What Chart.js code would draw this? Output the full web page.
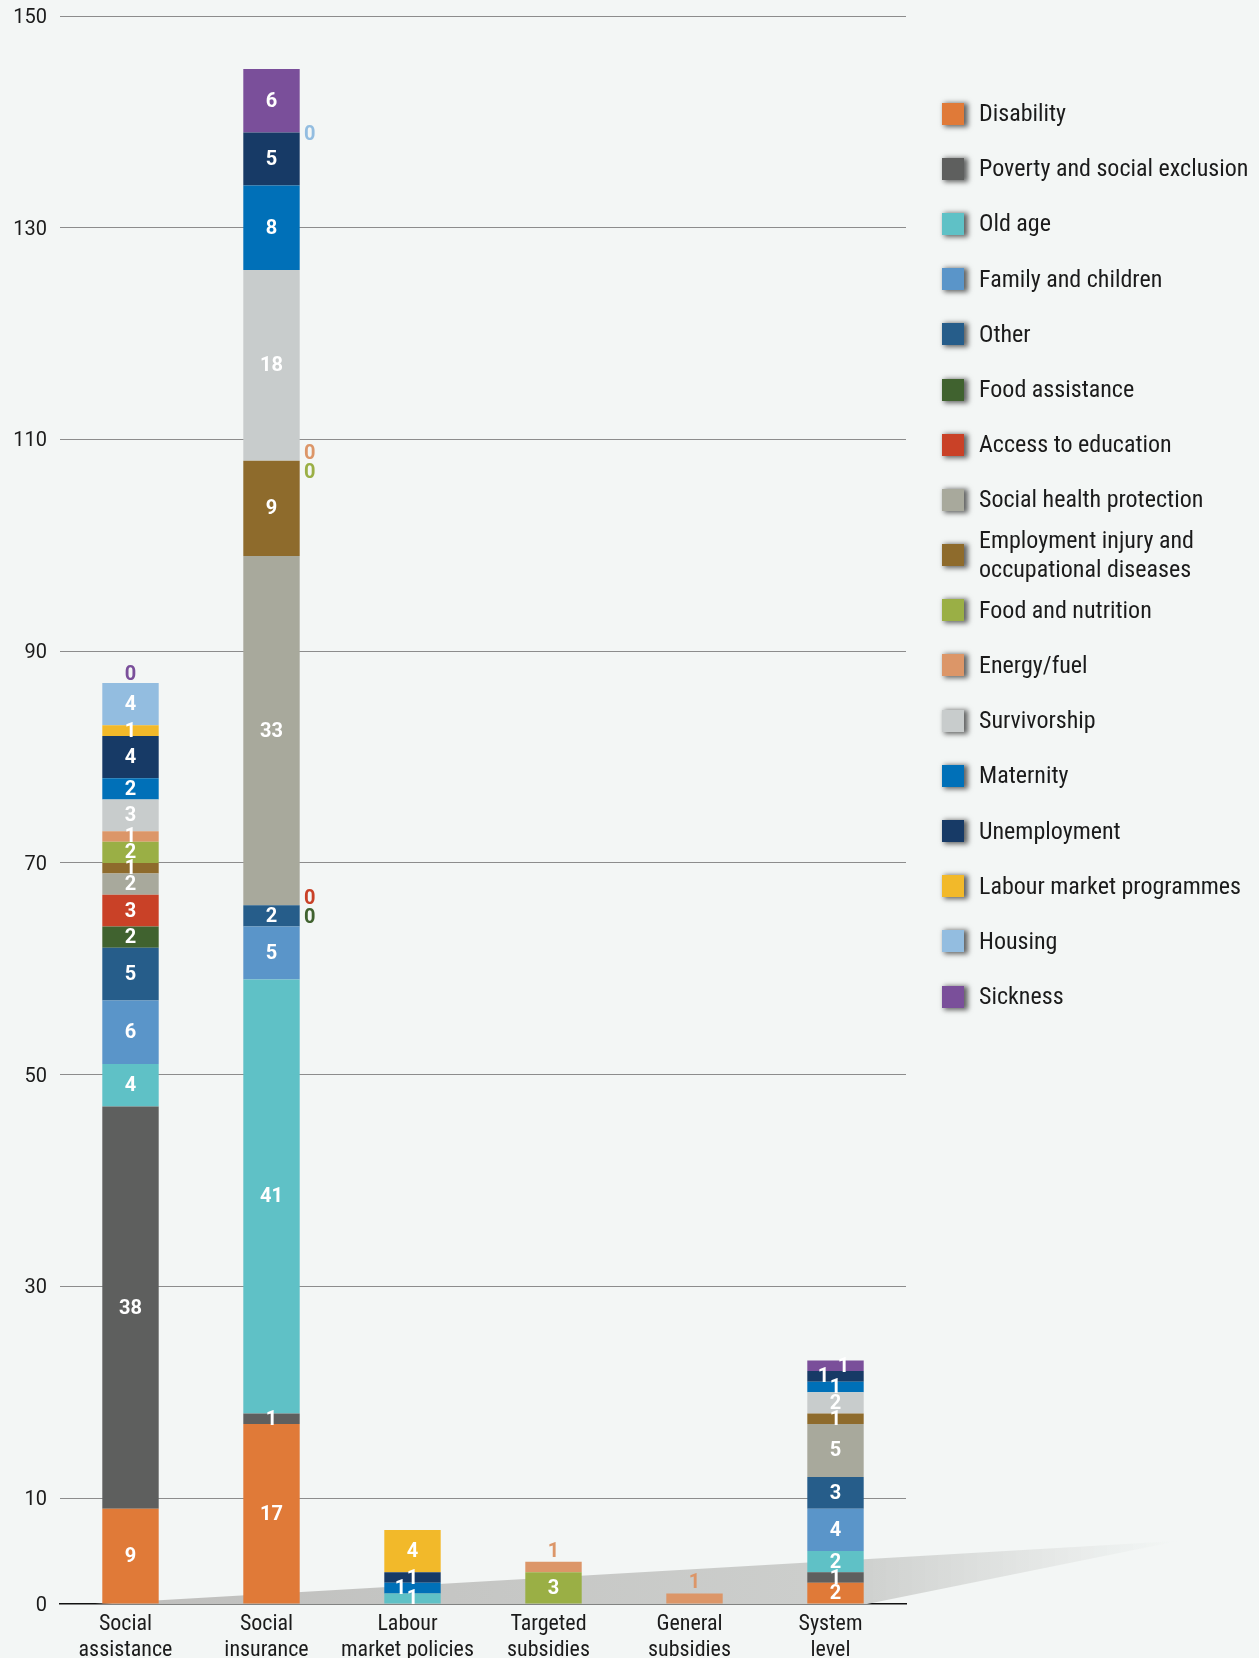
<!DOCTYPE html>
<html><head><meta charset="utf-8">
<script src="https://cdn.jsdelivr.net/npm/chart.js@4.4.1/dist/chart.umd.min.js"></script>
<style>
html,body{margin:0;padding:0;background:#f3f6f5;overflow:hidden;}
#wrap{position:relative;width:1259px;height:1658px;}
canvas{position:absolute;left:0;top:0;}
#legend{position:absolute;left:942px;top:86px;font-family:'Roboto Condensed','Liberation Sans Narrow','Arial Narrow','DejaVu Sans Condensed',Roboto,sans-serif;font-size:24px;color:#1b1b1b;}
.item{height:55.2px;display:flex;align-items:center;}
.sw{width:22px;height:22px;box-shadow:3px 1px 5px 1px rgba(0,0,0,0.6);margin-right:15px;flex:none;}
.txt{line-height:29px;max-width:280px;}
</style></head><body>
<div id="wrap"><canvas id="c" width="1259" height="1658"></canvas><div id="legend"></div></div>
<script>
const categories = [['Social','assistance'],['Social','insurance'],['Labour','market policies'],['Targeted','subsidies'],['General','subsidies'],['System','level']];
const yTickValues = [0,10,30,50,70,90,110,130,150];
const seriesNames = ['Disability','Poverty and social exclusion','Old age','Family and children','Other','Food assistance','Access to education','Social health protection','Employment injury and occupational diseases','Food and nutrition','Energy/fuel','Survivorship','Maternity','Unemployment','Labour market programmes','Housing','Sickness'];
const seriesColors = ['#e07a38','#5e5f5e','#5fc1c6','#5a95c9','#265d8a','#40622f','#c94127','#a8a99c','#8e6b2c','#9aaf45','#dc9668','#c8cccc','#0070b8','#173a66','#f2b92a','#93bde0','#7a4f9a'];
// values per category: [Social assistance, Social insurance, Labour market policies, Targeted subsidies, General subsidies, System level]
const disability        = [9, 17, null, null, null, 2];
const poverty           = [38, 1, null, null, null, 1];
const oldAge            = [4, 41, 1, null, null, 2];
const family            = [6, 5, null, null, null, 4];
const other             = [5, 2, null, null, null, 3];
const foodAssistance    = [2, 0, null, null, null, null];
const education         = [3, 0, null, null, null, null];
const health            = [2, 33, null, null, null, 5];
const employmentInjury  = [1, 9, null, null, null, 1];
const foodNutrition     = [2, 0, null, 3, null, null];
const energy            = [1, 0, null, 1, 1, null];
const survivorship      = [3, 18, null, null, null, 2];
const maternity         = [2, 8, 1, null, null, 1];
const unemployment      = [4, 5, 1, null, null, 1];
const labourProgrammes  = [1, null, 4, null, null, null];
const housing           = [4, 0, null, null, null, null];
const sickness          = [0, 6, null, null, null, 1];
const seriesValues = [disability,poverty,oldAge,family,other,foodAssistance,education,health,employmentInjury,foodNutrition,energy,survivorship,maternity,unemployment,labourProgrammes,housing,sickness];

const FONT = "'Roboto Condensed','Liberation Sans Narrow','Arial Narrow','DejaVu Sans Condensed',Roboto,sans-serif";
const NUMFONT = "Roboto,'Liberation Sans',sans-serif";

const datasets = seriesNames.map((n,i)=>({
  label:n, data:seriesValues[i], backgroundColor:seriesColors[i], borderWidth:0,
  barPercentage:0.5, categoryPercentage:0.8, stack:'s'
}));

const wedgePlugin = {
  id:'wedge',
  beforeDatasetsDraw(chart){
    const {ctx, chartArea:a, scales:{y}} = chart;
    const base = y.getPixelForValue(0);
    const x0 = a.left + 35, xTip = a.right + 272, yTip = base - 63, xRet = a.right - 39;
    const g = ctx.createLinearGradient(x0,0,xTip,0);
    g.addColorStop(0,'rgb(190,190,188)');
    g.addColorStop(0.7,'rgb(205,207,205)');
    g.addColorStop(1,'rgba(243,246,245,0.9)');
    ctx.save(); ctx.beginPath(); ctx.moveTo(x0,base); ctx.lineTo(xTip,yTip); ctx.lineTo(xRet,base); ctx.closePath();
    ctx.fillStyle=g; ctx.fill(); ctx.restore();
  }
};

const labelPlugin = {
  id:'segLabels',
  afterDatasetsDraw(chart){
    const ctx = chart.ctx, ds = chart.data.datasets, y = chart.scales.y;
    ctx.save(); ctx.textAlign='center'; ctx.textBaseline='middle';
    ctx.font = `bold 20px ${NUMFONT}`;
    const nCat = chart.data.labels.length;
    for (let j=0;j<nCat;j++){
      let total=0, topIdx=-1;
      ds.forEach((d,i)=>{const v=d.data[j]; if(v!=null){total+=v; if(v>0) topIdx=i;}});
      const zeroGroups={}; let cum=0;
      ds.forEach((d,i)=>{const v=d.data[j]; if(v===0){(zeroGroups[cum] ||= []).push(i);} if(v!=null) cum+=v;});
      cum=0; let run=0;
      ds.forEach((d,i)=>{
        const v=d.data[j]; if(v==null) return;
        const el=chart.getDatasetMeta(i).data[j];
        if(v===0){
          ctx.fillStyle=d.backgroundColor;
          if(i>topIdx){ ctx.fillText('0', el.x, el.y-8); }
          else {
            const g=zeroGroups[cum], k=g.indexOf(i), n=g.length;
            ctx.fillText('0', el.x+el.width/2+10, y.getPixelForValue(cum)+((n-1)/2-k)*19+3);
          }
          return;
        }
        cum+=v;
        if(i===topIdx && total<5){ ctx.fillStyle=d.backgroundColor; ctx.fillText(String(v), el.x, el.y-10); return; }
        if(v<=1) run++; else run=0;
        const dx = run===2 ? -12 : (run===3 && i===topIdx ? 8 : 0);
        ctx.fillStyle='#ffffff';
        ctx.fillText(String(v), el.x+dx, (el.y+el.base)/2+1);
      });
    }
    ctx.restore();
  }
};

new Chart(document.getElementById('c'), {
  type:'bar',
  data:{labels:categories, datasets},
  options:{
    responsive:false, animation:false,
    layout:{padding:{top:16,right:353,left:0,bottom:0}},
    plugins:{legend:{display:false}, tooltip:{enabled:false}},
    scales:{
      x:{stacked:true, grid:{display:false,drawTicks:false}, border:{display:true,color:'#111',width:1.5},
         ticks:{font:{family:FONT,size:22}, color:'#1b1b1b', padding:7, maxRotation:0, autoSkip:false, labelOffset:-5},
         afterFit(s){s.height=54;}},
      y:{stacked:true, min:0, max:150,
         afterBuildTicks(s){s.ticks=yTickValues.map(v=>({value:v}));},
         grid:{color:c=>c.tick && c.tick.value===0?'rgba(0,0,0,0)':'#8c8c8c', lineWidth:1, drawTicks:false},
         border:{display:false},
         ticks:{font:{family:NUMFONT,size:20}, color:'#1b1b1b', padding:13, labelOffset:2},
         afterFit(s){s.width=60; s.paddingTop=0; s.paddingBottom=0;}}
    }
  },
  plugins:[wedgePlugin,labelPlugin]
});

const leg=document.getElementById('legend');
seriesNames.forEach((n,i)=>{
  const it=document.createElement('div'); it.className='item';
  const sw=document.createElement('div'); sw.className='sw'; sw.style.background=seriesColors[i];
  const tx=document.createElement('div'); tx.className='txt'; tx.textContent=n;
  it.appendChild(sw); it.appendChild(tx); leg.appendChild(it);
});
</script>
</body></html>
